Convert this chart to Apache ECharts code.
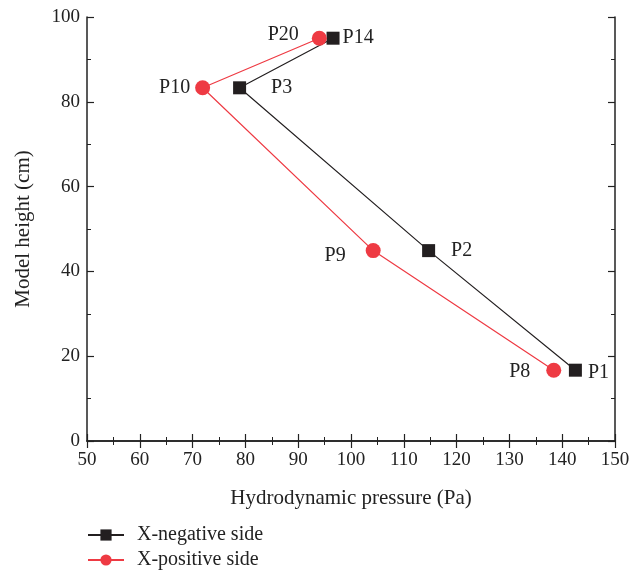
<!DOCTYPE html>
<html><head><meta charset="utf-8">
<script src="https://cdn.jsdelivr.net/npm/echarts@6/dist/echarts.min.js"></script>
<style>html,body{margin:0;padding:0;background:#fff}#c{width:640px;height:571px}</style>
</head><body><div id="c"></div>
<script>
var negPressure = [142.5, 114.7, 78.9, 96.6];
var negHeight = [16.7, 44.9, 83.3, 95.0];
var negNames = ['P1', 'P2', 'P3', 'P14'];
var posPressure = [138.4, 104.2, 71.9, 94.0];
var posHeight = [16.7, 44.9, 83.3, 95.0];
var posNames = ['P8', 'P9', 'P10', 'P20'];
var seriesNames = ['X-negative side', 'X-positive side'];

var FONT = '"Liberation Serif", "DejaVu Serif", serif';
var negLabelPos = ['right', 'right', 'right', 'right'];
var negLabelDist = [6, 16, 25, 3];
var negLabelOff = [[0, 3], [0, 0], [0, 0], [0, 0]];
var posLabelPos = ['left', 'left', 'left', 'left'];
var posLabelDist = [16, 20, 5, 13];
var posLabelOff = [[0, 2], [0, 5], [0, 0], [0, -3]];

function build(xs, ys, names, pos, dist, off) {
  return xs.map(function (x, i) {
    return {value: [x, ys[i]], label: {show: true, formatter: names[i], position: pos[i], distance: dist[i], offset: off[i]}};
  });
}

var chart = echarts.init(document.getElementById('c'));
var axisCommon = {
  axisLine: {show: true, lineStyle: {color: '#222', width: 1.5}},
  axisTick: {show: true, inside: true, length: 7, lineStyle: {color: '#222', width: 1.2}},
  minorTick: {show: true, splitNumber: 2, length: 4, lineStyle: {color: '#222', width: 1}},
  splitLine: {show: false}
};
var legendText = {fontFamily: FONT, fontSize: 20, color: '#222', padding: [0, 0, 0, 8]};
chart.setOption({
  animation: false,
  textStyle: {fontFamily: FONT},
  grid: {left: 87, right: 25, top: 17, bottom: 130},
  xAxis: [
    Object.assign({type: 'value', min: 50, max: 150, interval: 10, position: 'bottom',
      name: 'Hydrodynamic pressure (Pa)', nameLocation: 'middle', nameGap: 47,
      nameTextStyle: {fontFamily: FONT, fontSize: 21, color: '#222'},
      axisLabel: {fontFamily: FONT, fontSize: 19, color: '#222', margin: 10}}, axisCommon),
    Object.assign({type: 'value', min: 50, max: 150, interval: 10, position: 'top',
      axisLabel: {show: false}}, axisCommon)
  ],
  yAxis: [
    Object.assign({type: 'value', min: 0, max: 100, interval: 20, position: 'left',
      name: 'Model height (cm)', nameLocation: 'middle', nameGap: 53,
      nameTextStyle: {fontFamily: FONT, fontSize: 21, color: '#222'},
      axisLabel: {fontFamily: FONT, fontSize: 19, color: '#222', margin: 7}}, axisCommon),
    Object.assign({type: 'value', min: 0, max: 100, interval: 20, position: 'right',
      axisLabel: {show: false}}, axisCommon)
  ],
  legend: [
    {orient: 'vertical', left: 87, top: 525, itemWidth: 36, itemHeight: 14, padding: 0,
      textStyle: legendText, data: [seriesNames[0]]},
    {orient: 'vertical', left: 87, top: 550, itemWidth: 36, itemHeight: 14, padding: 0,
      textStyle: legendText, data: [seriesNames[1]]}
  ],
  series: [
    {name: seriesNames[0], type: 'line', symbol: 'rect', symbolSize: 13,
      itemStyle: {color: '#231f20'}, lineStyle: {color: '#231f20', width: 1.2},
      label: {fontFamily: FONT, fontSize: 20, color: '#222'},
      data: build(negPressure, negHeight, negNames, negLabelPos, negLabelDist, negLabelOff)},
    {name: seriesNames[1], type: 'line', symbol: 'circle', symbolSize: 15,
      itemStyle: {color: '#ee3a43'}, lineStyle: {color: '#ee3a43', width: 1.2},
      label: {fontFamily: FONT, fontSize: 20, color: '#222'},
      data: build(posPressure, posHeight, posNames, posLabelPos, posLabelDist, posLabelOff)}
  ]
});
</script></body></html>
